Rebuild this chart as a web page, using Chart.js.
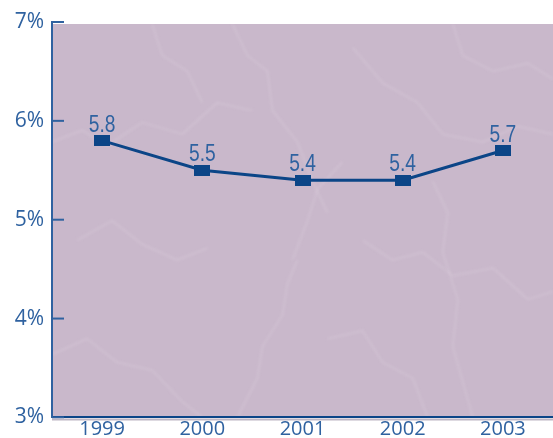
<!DOCTYPE html>
<html lang="en">
<head>
  <meta charset="UTF-8">
  <title>Rate 1999-2003</title>
  <script src="https://cdn.jsdelivr.net/npm/chart.js@4.4.1/dist/chart.umd.min.js"></script>
  <style>
    html, body {
      margin: 0;
      padding: 0;
      background: #ffffff;
      overflow: hidden;
    }
    #wrap {
      width: 553px;
      height: 438px;
    }
  </style>
</head>
<body>
  <div id="wrap"><canvas id="lineChart"></canvas></div>

  <script>
    const years = ['1999', '2000', '2001', '2002', '2003'];
    const rates = [5.8, 5.5, 5.4, 5.4, 5.7];
    const yTicks = [3, 4, 5, 6, 7];

    const blue = '#0b4587';
    const labelBlue = '#2f62a0';

    // flat rectangle marker, wider than tall
    function makeMarker() {
      const c = document.createElement('canvas');
      c.width = 16;
      c.height = 11;
      const g = c.getContext('2d');
      g.fillStyle = blue;
      g.fillRect(0, 0, 16, 11);
      return c;
    }

    // marble backdrop: flat lilac with soft pale veins (fractions of the plot box)
    const veins = [
      [[0.00, 0.30], [0.06, 0.27], [0.11, 0.31], [0.18, 0.25], [0.26, 0.28], [0.33, 0.20], [0.40, 0.22]],
      [[0.36, 0.00], [0.39, 0.08], [0.43, 0.12], [0.44, 0.22], [0.49, 0.30], [0.52, 0.40], [0.55, 0.48]],
      [[0.49, 0.60], [0.47, 0.66], [0.46, 0.74], [0.42, 0.82], [0.41, 0.90], [0.37, 1.00]],
      [[0.48, 0.60], [0.51, 0.50], [0.53, 0.42], [0.58, 0.35]],
      [[0.60, 0.06], [0.66, 0.15], [0.73, 0.20], [0.78, 0.28], [0.86, 0.30], [0.93, 0.26], [1.00, 0.28]],
      [[0.62, 0.55], [0.68, 0.60], [0.74, 0.58], [0.80, 0.64], [0.88, 0.62], [0.95, 0.70], [1.00, 0.68]],
      [[0.00, 0.84], [0.07, 0.80], [0.13, 0.86], [0.20, 0.88], [0.26, 0.96], [0.30, 1.00]],
      [[0.76, 0.40], [0.79, 0.48], [0.78, 0.58], [0.81, 0.70], [0.80, 0.82], [0.84, 1.00]],
      [[0.05, 0.55], [0.12, 0.50], [0.18, 0.56], [0.25, 0.60], [0.31, 0.57]],
      [[0.80, 0.00], [0.82, 0.08], [0.88, 0.12], [0.95, 0.10], [1.00, 0.14]],
      [[0.20, 0.00], [0.22, 0.08], [0.27, 0.12], [0.30, 0.20]],
      [[0.55, 0.80], [0.62, 0.78], [0.66, 0.86], [0.72, 0.90], [0.75, 1.00]]
    ];

    const plotBackground = {
      id: 'plotBackground',
      beforeDraw(chart) {
        const { ctx, chartArea: a } = chart;
        const w = a.right - a.left;
        const h = a.bottom - a.top - 2;
        const top = a.top + 2;
        ctx.save();
        ctx.fillStyle = '#c9b8cb';
        ctx.fillRect(a.left, top, w, h);
        ctx.beginPath();
        ctx.rect(a.left, top, w, h);
        ctx.clip();
        ctx.filter = 'blur(1.5px)';
        ctx.strokeStyle = 'rgba(236, 228, 238, 0.28)';
        ctx.lineWidth = 1.5;
        ctx.lineJoin = 'round';
        veins.forEach(v => {
          ctx.beginPath();
          v.forEach((p, i) => {
            const px = a.left + p[0] * w;
            const py = top + p[1] * h;
            if (i === 0) ctx.moveTo(px, py); else ctx.lineTo(px, py);
          });
          ctx.stroke();
        });
        ctx.restore();
      }
    };

    // short tick marks pointing into the plot, plus point labels
    const extras = {
      id: 'extras',
      afterDraw(chart) {
        const { ctx, chartArea: a } = chart;
        const y = chart.scales.y;
        ctx.save();
        ctx.strokeStyle = labelBlue;
        ctx.lineWidth = 2;
        yTicks.forEach(v => {
          const py = y.getPixelForValue(v);
          ctx.beginPath();
          ctx.moveTo(a.left, py);
          ctx.lineTo(a.left + 12, py);
          ctx.stroke();
        });

        // light shadow under the x axis
        ctx.strokeStyle = '#bdb6c4';
        ctx.beginPath();
        ctx.moveTo(a.left, a.bottom + 2);
        ctx.lineTo(a.right, a.bottom + 2);
        ctx.stroke();

        ctx.fillStyle = labelBlue;
        ctx.font = '24px "Liberation Sans", sans-serif';
        ctx.textAlign = 'center';
        ctx.textBaseline = 'alphabetic';
        const meta = chart.getDatasetMeta(0);
        meta.data.forEach((pt, i) => {
          ctx.save();
          ctx.translate(pt.x, pt.y - 9);
          ctx.scale(0.8, 1);
          ctx.fillText(rates[i].toFixed(1), 0, 0);
          ctx.restore();
        });
        ctx.restore();
      }
    };

    new Chart(document.getElementById('lineChart'), {
      type: 'line',
      data: {
        labels: years,
        datasets: [{
          data: rates,
          borderColor: blue,
          borderWidth: 3,
          pointStyle: makeMarker(),
          pointRadius: 8,
          tension: 0
        }]
      },
      options: {
        responsive: true,
        maintainAspectRatio: false,
        animation: false,
        layout: {
          autoPadding: false,
          padding: { top: 22, right: 0, bottom: 0, left: 0 }
        },
        plugins: {
          legend: { display: false },
          tooltip: { enabled: false }
        },
        scales: {
          x: {
            offset: true,
            afterFit(scale) {
              scale.height = 19;
              scale.paddingLeft = 0;
              scale.paddingRight = 0;
            },
            grid: { display: false, drawTicks: false },
            border: { color: blue, width: 2 },
            ticks: {
              color: labelBlue,
              padding: 0,
              font: { family: '"Open Sans", sans-serif', size: 20 }
            }
          },
          y: {
            min: 3,
            max: 7,
            afterFit(scale) { scale.width = 52; },
            afterBuildTicks(scale) { scale.ticks = yTicks.map(v => ({ value: v })); },
            grid: { display: false, drawTicks: false },
            border: { color: labelBlue, width: 2 },
            ticks: {
              color: labelBlue,
              padding: 8,
              font: { family: '"Open Sans", sans-serif', size: 21 },
              callback: v => v + '%'
            }
          }
        }
      },
      plugins: [plotBackground, extras]
    });
  </script>
</body>
</html>
